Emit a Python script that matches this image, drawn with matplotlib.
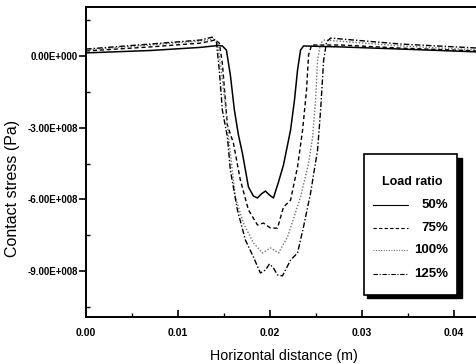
import matplotlib
matplotlib.use('Agg')
import matplotlib.pyplot as plt
from matplotlib.patches import Rectangle
from matplotlib.lines import Line2D
from matplotlib.ticker import MultipleLocator, FuncFormatter

plt.rcParams['font.family'] = ['Liberation Sans', 'DejaVu Sans']

# contact stress (Pa) vs horizontal distance (m)
x50 = [0.0, 0.007, 0.01243, 0.0144, 0.01483, 0.01527, 0.0157, 0.01614, 0.01658, 0.01701,
       0.01767, 0.01821, 0.01865, 0.01908, 0.01952, 0.01996, 0.02039, 0.02094, 0.02148,
       0.02225, 0.02268, 0.02301, 0.02334, 0.02366, 0.0277, 0.03424, 0.0427]
y50 = [1.3e7, 2.3e7, 3.6e7, 4.4e7, 4.2e7, 2.5e7, -7.9e7, -2.26e8, -3.3e8, -4.06e8,
       -5.48e8, -5.86e8, -5.94e8, -5.77e8, -5.65e8, -5.82e8, -5.94e8, -5.27e8, -4.56e8,
       -3.1e8, -1.84e8, -5.9e7, 2.5e7, 4.2e7, 3.8e7, 2.9e7, 1.7e7]

x75 = [0.0, 0.007, 0.0125, 0.01407, 0.0145, 0.01483, 0.01538, 0.01603, 0.01679, 0.01767,
       0.01865, 0.0193, 0.02007, 0.02083, 0.02148, 0.02225, 0.02301, 0.02356, 0.02399,
       0.02421, 0.02454, 0.0277, 0.03424, 0.0427]
y75 = [2.1e7, 3.8e7, 5.4e7, 6.7e7, 5.4e7, -2.9e7, -2.89e8, -3.64e8, -5.19e8, -6.44e8,
       -7.07e8, -6.99e8, -7.2e8, -7.2e8, -6.32e8, -6.03e8, -4.64e8, -3.1e8, -1.42e8,
       4e6, 4.6e7, 4.6e7, 3.3e7, 2.1e7]

x100 = [0.0, 0.007, 0.0125, 0.01385, 0.01429, 0.01472, 0.01527, 0.0156, 0.01625, 0.01712,
        0.01821, 0.01919, 0.02007, 0.02094, 0.02192, 0.02334, 0.02421, 0.02465, 0.02497,
        0.02519, 0.02552, 0.02595, 0.03424, 0.0427]
y100 = [2.5e7, 4.6e7, 6.3e7, 7.1e7, 5.9e7, -5.9e7, -2.47e8, -3.72e8, -5.9e8, -6.99e8,
        -7.82e8, -8.24e8, -8.03e8, -8.24e8, -7.57e8, -5.9e8, -4.48e8, -3.39e8, -1.84e8,
        -1.7e7, 5.4e7, 6.7e7, 4.2e7, 2.5e7]

x125 = [0.0, 0.007, 0.0125, 0.01374, 0.01418, 0.0145, 0.01483, 0.01538, 0.0157, 0.01647,
        0.01734, 0.01821, 0.01897, 0.01952, 0.01996, 0.02039, 0.02083, 0.02137, 0.02225,
        0.02301, 0.02366, 0.02443, 0.02519, 0.02552, 0.02585, 0.02617, 0.02661, 0.03424, 0.0427]
y125 = [2.9e7, 5.0e7, 6.7e7, 7.9e7, 5.9e7, -5.9e7, -2.26e8, -3.39e8, -4.77e8, -6.44e8,
        -7.7e8, -8.41e8, -9.08e8, -8.95e8, -8.7e8, -8.87e8, -9.16e8, -9.2e8, -8.54e8,
        -8.24e8, -7.15e8, -5.73e8, -3.93e8, -2.26e8, -1.7e7, 5.9e7, 7.5e7, 5.0e7, 3.3e7]

labels = ['50%', '75%', '100%', '125%']

W, H = 476, 364
fig = plt.figure(figsize=(W / 100, H / 100), dpi=100)


def fx(p):
    return p / W


def fy(p):
    return 1 - p / H


ax = fig.add_axes([fx(86), fy(317), fx(478) - fx(86), fy(7) - fy(317)])

styles = [dict(color='black', ls='-', lw=1.1),
          dict(color='black', ls=(0, (3, 2)), lw=1.0),
          dict(color='0.45', ls=(0, (1, 1.3)), lw=1.0),
          dict(color='black', ls=(0, (4, 1.5, 1, 1.5)), lw=1.0)]
series = [(x50, y50), (x75, y75), (x100, y100), (x125, y125)]
for (xs, ys), st in zip(series, styles):
    ax.plot(xs, ys, **st)

ax.set_xlim(0, 0.04264)
ax.set_ylim(-1.092e9, 2.05e8)
ax.spines['right'].set_visible(False)
for s in ['left', 'bottom', 'top']:
    ax.spines[s].set_linewidth(1.4)

ax.xaxis.set_major_locator(MultipleLocator(0.01))
ax.xaxis.set_minor_locator(MultipleLocator(0.005))
ax.yaxis.set_major_locator(MultipleLocator(3e8))
ax.yaxis.set_minor_locator(MultipleLocator(1.5e8))


def yfmt(v, pos):
    if abs(v) < 1:
        return '0.00E+000'
    e = 8
    return '%.2fE+%03d' % (v / 10 ** e, e)


ax.yaxis.set_major_formatter(FuncFormatter(yfmt))
ax.xaxis.set_major_formatter(FuncFormatter(lambda v, p: '%.2f' % v))
ax.tick_params(axis='x', which='major', direction='in', length=5, width=1.2, pad=8,
               labelsize=7.5)
ax.tick_params(axis='x', which='minor', direction='in', length=3, width=1.0)
ax.tick_params(axis='y', which='major', direction='out', length=5, width=1.2, pad=1,
               labelsize=7)
ax.tick_params(axis='y', which='minor', direction='in', length=3, width=1.0)
for t in ax.get_xticklabels() + ax.get_yticklabels():
    t.set_fontweight('bold')

ax.set_xlabel('Horizontal distance (m)', fontsize=10.3)
ax.set_ylabel('Contact stress (Pa)', fontsize=11.5)
ax.xaxis.set_label_coords(0.504, -0.102)
ax.yaxis.set_label_coords(-0.168, 0.416)

# legend box with black shadow
shadow = Rectangle((fx(367), fy(298)), fx(462) - fx(367), fy(158) - fy(298),
                   transform=fig.transFigure, facecolor='black', edgecolor='black', zorder=5)
box = Rectangle((fx(364), fy(295)), fx(457) - fx(364), fy(154) - fy(295),
                transform=fig.transFigure, facecolor='white', edgecolor='black', lw=1.2,
                zorder=6)
fig.add_artist(shadow)
fig.add_artist(box)
fig.text(fx(412), fy(182), 'Load ratio', ha='center', va='center', fontsize=9,
         fontweight='bold', zorder=7)
rows = [205, 228, 250, 274]
for lab, st, r in zip(labels, styles, rows):
    fig.add_artist(Line2D([fx(373), fx(408)], [fy(r), fy(r)], transform=fig.transFigure,
                          zorder=7, color=st['color'], ls=st['ls'], lw=0.8))
    fig.text(fx(448), fy(r), lab, ha='right', va='center', fontsize=9.5,
             fontweight='bold', zorder=7)

fig.savefig('out.png', dpi=100)
